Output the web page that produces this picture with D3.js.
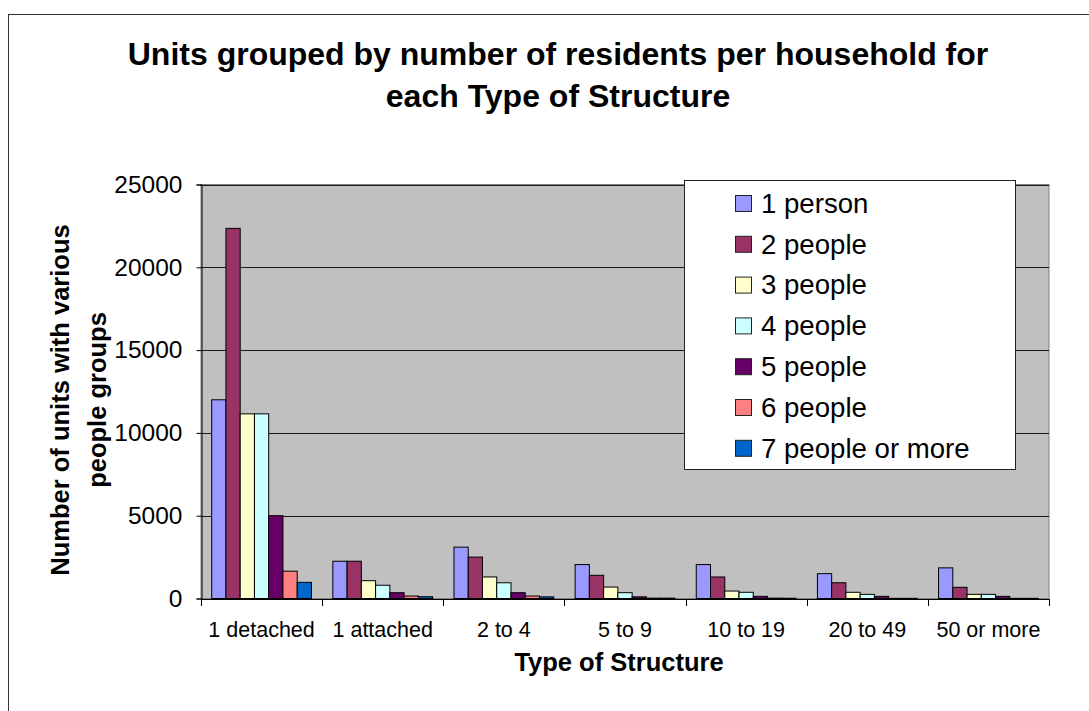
<!DOCTYPE html>
<html>
<head>
<meta charset="utf-8">
<script src="https://cdn.jsdelivr.net/npm/d3@7"></script>
<style>
  html, body { margin: 0; padding: 0; background: #fff; }
  svg { display: block; }
  text { font-family: "Liberation Sans", Arial, sans-serif; fill: #000; }
</style>
</head>
<body>
<svg id="chart" width="1089" height="711"></svg>
<script>
// Structure types along the x axis
const categories = ["1 detached", "1 attached", "2 to 4", "5 to 9", "10 to 19", "20 to 49", "50 or more"];

// Household size series
const seriesNames = ["1 person", "2 people", "3 people", "4 people", "5 people", "6 people", "7 people or more"];
const seriesColors = ["#9999FF", "#993366", "#FFFFCC", "#CCFFFF", "#660066", "#FF8080", "#0066CC"];

// Units per structure type, one array per household size
const onePerson    = [12000, 2250, 3100, 2050, 2050, 1500, 1850];
const twoPeople    = [22350, 2250, 2500, 1400, 1300,  950,  675];
const threePeople  = [11150, 1075, 1300,  690,  450,  375,  250];
const fourPeople   = [11150,  800,  950,  350,  375,  250,  250];
const fivePeople   = [ 5000,  350,  350,  100,  130,  130,  130];
const sixPeople    = [ 1650,  150,  150,   20,   20,   10,   10];
const sevenPlus    = [  975,  110,  100,   20,   15,   10,   10];
const seriesValues = [onePerson, twoPeople, threePeople, fourPeople, fivePeople, sixPeople, sevenPlus];

const yTicks = [0, 5000, 10000, 15000, 20000, 25000];

const titleLines = ["Units grouped by number of residents per household for", "each Type of Structure"];
const yTitleLines = ["Number of units with various", "people groups"];
const xTitle = "Type of Structure";

const svg = d3.select("#chart");

// Outer chart frame
svg.append("rect")
  .attr("x", 8.5).attr("y", 14.5)
  .attr("width", 1200).attr("height", 900)
  .attr("fill", "#fff").attr("stroke", "#333").attr("stroke-width", 1);

const plot = { left: 201, right: 1049, top: 184.5, bottom: 598.5 };

const x0 = d3.scaleBand().domain(categories).range([plot.left, plot.right]).padding(0);
const x1 = d3.scaleBand().domain(seriesNames).range([0, x0.bandwidth()])
  .paddingInner(0).paddingOuter(0.75);
const y = d3.scaleLinear().domain([0, 25000]).range([plot.bottom, plot.top]);
const color = d3.scaleOrdinal().domain(seriesNames).range(seriesColors);

// Plot background
svg.append("rect")
  .attr("x", plot.left).attr("y", plot.top)
  .attr("width", plot.right - plot.left).attr("height", plot.bottom - plot.top)
  .attr("fill", "#C0C0C0").attr("stroke", "#808080").attr("stroke-width", 1);

// Horizontal gridlines
svg.append("g")
  .selectAll("line")
  .data(yTicks.filter(d => d > 0))
  .join("line")
  .attr("x1", plot.left).attr("x2", plot.right)
  .attr("y1", d => Math.round(y(d)) + 0.5).attr("y2", d => Math.round(y(d)) + 0.5)
  .attr("stroke", "#1a1a1a").attr("stroke-width", 1);

// Bars
const rows = categories.map((c, i) => ({ category: c, values: seriesNames.map((s, j) => ({ series: s, value: seriesValues[j][i] })) }));

svg.append("g")
  .selectAll("g")
  .data(rows)
  .join("g")
  .attr("transform", d => `translate(${x0(d.category)},0)`)
  .selectAll("rect")
  .data(d => d.values)
  .join("rect")
  .attr("x", d => x1(d.series))
  .attr("y", d => y(d.value))
  .attr("width", x1.bandwidth())
  .attr("height", d => y(0) - y(d.value))
  .attr("fill", d => color(d.series))
  .attr("stroke", "#000")
  .attr("stroke-width", 1);

// Y axis
const yAxis = svg.append("g")
  .attr("transform", `translate(${plot.left + 0.5},0)`)
  .call(d3.axisLeft(y).tickValues(yTicks).tickFormat(d3.format("d")).tickSize(5).tickPadding(14));
yAxis.selectAll("text").style("font-size", "24.5px");
yAxis.selectAll("line, path").attr("stroke", "#000");

// X axis: labels centred under each group, ticks at group boundaries
const xAxis = svg.append("g")
  .attr("transform", `translate(0,${plot.bottom + 0.5})`)
  .call(d3.axisBottom(x0).tickSize(0).tickPadding(23));
xAxis.selectAll("text").style("font-size", "21.5px");
xAxis.select("path").attr("stroke", "#000");

const boundaries = categories.map(c => x0(c)).concat([x0.range()[1]]);
xAxis.selectAll(".boundary")
  .data(boundaries)
  .join("line")
  .attr("class", "boundary")
  .attr("x1", d => Math.round(d) + 0.5).attr("x2", d => Math.round(d) + 0.5)
  .attr("y1", 0).attr("y2", 7)
  .attr("stroke", "#000");

// Chart title
svg.append("text")
  .attr("text-anchor", "middle")
  .style("font-size", "32px").style("font-weight", "bold")
  .selectAll("tspan")
  .data(titleLines)
  .join("tspan")
  .attr("x", 558)
  .attr("y", (d, i) => 65 + i * 42)
  .text(d => d);

// Axis titles
svg.append("text")
  .attr("text-anchor", "middle")
  .attr("x", 619).attr("y", 671)
  .style("font-size", "25.5px").style("font-weight", "bold")
  .text(xTitle);

svg.append("g")
  .attr("transform", "translate(0,400) rotate(-90)")
  .append("text")
  .attr("text-anchor", "middle")
  .style("font-size", "25.5px").style("font-weight", "bold")
  .selectAll("tspan")
  .data(yTitleLines)
  .join("tspan")
  .attr("x", 0)
  .attr("y", (d, i) => 69 + i * 37)
  .text(d => d);

// Legend
const legend = svg.append("g");
legend.append("rect")
  .attr("x", 684.5).attr("y", 180.5)
  .attr("width", 331).attr("height", 289)
  .attr("fill", "#fff").attr("stroke", "#222").attr("stroke-width", 1);

const legendRows = legend.selectAll(".item")
  .data(seriesNames)
  .join("g")
  .attr("class", "item")
  .attr("transform", (d, i) => `translate(0,${203 + i * 40.8})`);

legendRows.append("rect")
  .attr("x", 735.5).attr("y", -7.5)
  .attr("width", 16).attr("height", 16)
  .attr("fill", d => color(d))
  .attr("stroke", "#222").attr("stroke-width", 1);

legendRows.append("text")
  .attr("x", 761).attr("y", 9.7)
  .style("font-size", "27.6px")
  .text(d => d);
</script>
</body>
</html>
